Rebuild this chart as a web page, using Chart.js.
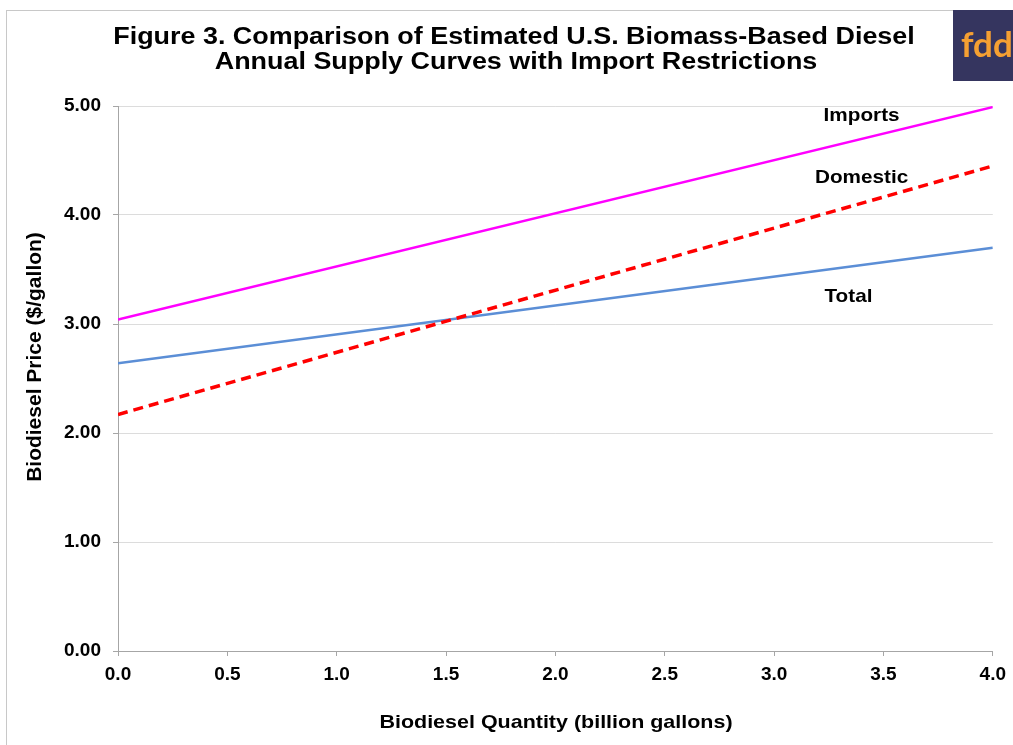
<!DOCTYPE html>
<html>
<head>
<meta charset="utf-8">
<title>Figure 3. Biomass-Based Diesel Supply Curves</title>
<script src="https://cdn.jsdelivr.net/npm/chart.js@4.4.0/dist/chart.umd.min.js"></script>
<style>
  html, body { margin: 0; padding: 0; background: #fff; }
  #wrap { width: 1013px; height: 745px; }
</style>
</head>
<body>
<div id="wrap"><canvas id="supplyChart" width="1013" height="745"></canvas></div>
<script>
// Chart values (billion gallons vs $/gallon)
const quantity = [0, 4];
const importsPrice = [3.04, 4.99];
const domesticPrice = [2.17, 4.45];
const totalPrice = [2.64, 3.70];
const seriesNames = ["Imports", "Domestic", "Total"];
const xTicks = [0, 0.5, 1, 1.5, 2, 2.5, 3, 3.5, 4];
const yTicks = [0, 1, 2, 3, 4, 5];

const FONT = "'Liberation Sans', Arial, sans-serif";

function toPoints(ys) {
  return quantity.map((q, i) => ({ x: q, y: ys[i] }));
}

// the source image is a bit wider than tall, so text is drawn slightly stretched
function wideText(ctx, text, cx, cy, sx) {
  ctx.save();
  ctx.translate(cx, cy);
  ctx.scale(sx, 1);
  ctx.fillText(text, 0, 0);
  ctx.restore();
}

// Draws titles, series labels, logo and frame
const decorations = {
  id: "decorations",
  afterDraw(chart) {
    const { ctx, scales } = chart;
    const x = scales.x, y = scales.y;
    ctx.save();

    // outer frame
    ctx.strokeStyle = "#c8c8c8";
    ctx.lineWidth = 1;
    ctx.strokeRect(6.5, 10.5, 1030, 760);

    // title
    ctx.fillStyle = "#000";
    ctx.textAlign = "center";
    ctx.textBaseline = "alphabetic";
    ctx.font = "bold 23px " + FONT;
    wideText(ctx, "Figure 3. Comparison of Estimated U.S. Biomass-Based Diesel", 514, 44, 1.17);
    wideText(ctx, "Annual Supply Curves with Import Restrictions", 516, 69, 1.17);

    // series labels, anchored in data space
    const labelAt = [
      [3.40, 4.91],
      [3.40, 4.34],
      [3.34, 3.25],
    ];
    ctx.font = "bold 19px " + FONT;
    ctx.textBaseline = "middle";
    seriesNames.forEach((name, i) => {
      wideText(ctx, name, x.getPixelForValue(labelAt[i][0]), y.getPixelForValue(labelAt[i][1]), 1.09);
    });

    // axis titles
    ctx.font = "bold 19px " + FONT;
    wideText(ctx, "Biodiesel Quantity (billion gallons)", 556, 723, 1.13);
    ctx.font = "bold 21px " + FONT;
    ctx.translate(35, 357);
    ctx.rotate(-Math.PI / 2);
    ctx.fillText("Biodiesel Price ($/gallon)", 0, 0);
    ctx.setTransform(1, 0, 0, 1, 0, 0);

    // fdd logo
    ctx.fillStyle = "#35355f";
    ctx.fillRect(953, 10, 70, 71);
    ctx.fillStyle = "#f5a032";
    ctx.textAlign = "left";
    ctx.textBaseline = "alphabetic";
    ctx.font = "bold 35px Lato, " + FONT;
    ctx.fillText("fdd", 961, 57);

    ctx.restore();
  },
};

const axisGray = "#a6a6a6";

new Chart(document.getElementById("supplyChart"), {
  type: "scatter",
  data: {
    datasets: [
      {
        label: seriesNames[0],
        data: toPoints(importsPrice),
        showLine: true,
        borderColor: "#ff00ff",
        borderWidth: 2.5,
        pointRadius: 0,
      },
      {
        label: seriesNames[1],
        data: toPoints(domesticPrice),
        showLine: true,
        borderColor: "#ff0000",
        borderWidth: 3.5,
        borderDash: [10, 6],
        pointRadius: 0,
      },
      {
        label: seriesNames[2],
        data: toPoints(totalPrice),
        showLine: true,
        borderColor: "#5b8ed6",
        borderWidth: 2.5,
        pointRadius: 0,
      },
    ],
  },
  options: {
    responsive: false,
    animation: false,
    devicePixelRatio: 1,
    layout: { padding: { top: 106, right: 19, left: 0, bottom: 0 } },
    plugins: {
      legend: { display: false },
      tooltip: { enabled: false },
    },
    scales: {
      x: {
        type: "linear",
        min: 0,
        max: 4,
        afterBuildTicks: (scale) => {
          scale.ticks = xTicks.map((v) => ({ value: v }));
        },
        afterFit: (scale) => {
          scale.height = 94;
        },
        ticks: {
          callback: (v) => Number(v).toFixed(1),
          color: "#000",
          font: { family: FONT, size: 19, weight: "bold" },
          padding: 7,
          maxRotation: 0,
        },
        grid: { drawOnChartArea: false, tickLength: 5, color: axisGray },
        border: { color: axisGray },
      },
      y: {
        min: 0,
        max: 5,
        afterBuildTicks: (scale) => {
          scale.ticks = yTicks.map((v) => ({ value: v }));
        },
        afterFit: (scale) => {
          scale.width = 118;
        },
        ticks: {
          callback: (v) => Number(v).toFixed(2),
          color: "#000",
          font: { family: FONT, size: 19, weight: "bold" },
          padding: 12,
        },
        grid: { color: "#dcdcdc", tickColor: axisGray, tickLength: 5 },
        border: { color: axisGray },
      },
    },
  },
  plugins: [decorations],
});
</script>
</body>
</html>
